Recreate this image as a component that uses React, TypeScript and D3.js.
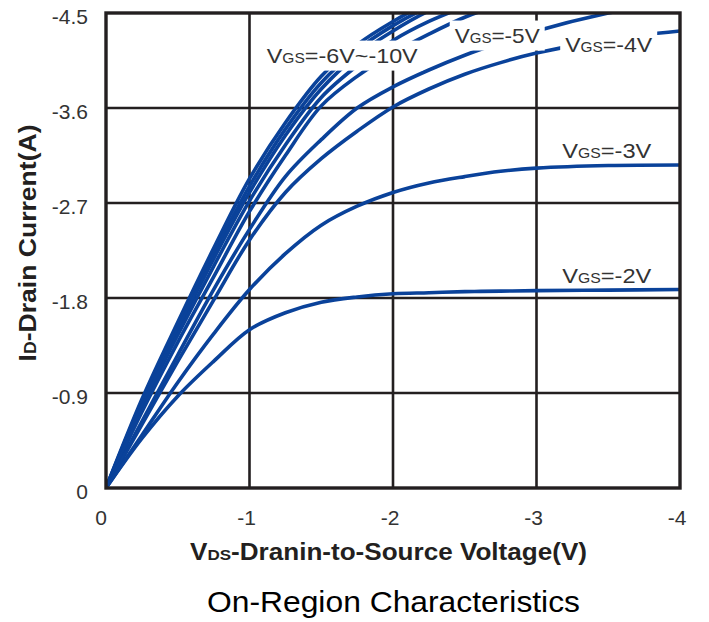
import React from 'react';
import * as d3 from 'd3';

// Drain-source voltage grid (V)
const VDS = [0, -0.25, -0.5, -0.75, -1, -1.25, -1.5, -1.75, -2, -2.25, -2.5, -2.75, -3, -3.5, -4];

// Drain current (A) for each gate voltage
const ID_VGS_10 = [0, -0.84, -1.57, -2.27, -2.93, -3.46, -3.9, -4.2, -4.42, -4.6, -4.74, -4.86, -4.96, -5.1, -5.2];
const ID_VGS_9 = [0, -0.82, -1.54, -2.22, -2.86, -3.4, -3.84, -4.15, -4.38, -4.56, -4.7, -4.82, -4.92, -5.05, -5.15];
const ID_VGS_8 = [0, -0.8, -1.5, -2.17, -2.8, -3.34, -3.78, -4.1, -4.33, -4.52, -4.66, -4.78, -4.88, -5.0, -5.1];
const ID_VGS_7 = [0, -0.77, -1.45, -2.1, -2.72, -3.25, -3.7, -4.0, -4.24, -4.42, -4.56, -4.68, -4.78, -4.92, -5.02];
const ID_VGS_6 = [0, -0.72, -1.38, -2.0, -2.62, -3.15, -3.62, -3.9, -4.12, -4.3, -4.46, -4.58, -4.68, -4.8, -4.9];
const ID_VGS_5 = [0, -0.63, -1.26, -1.88, -2.45, -2.95, -3.3, -3.6, -3.8, -3.96, -4.1, -4.22, -4.33, -4.5, -4.62];
const ID_VGS_4 = [0, -0.6, -1.2, -1.78, -2.35, -2.8, -3.12, -3.38, -3.61, -3.78, -3.92, -4.03, -4.12, -4.25, -4.33];
const ID_VGS_3 = [0, -0.5, -1.0, -1.46, -1.88, -2.22, -2.49, -2.67, -2.8, -2.89, -2.95, -3.0, -3.03, -3.055, -3.06];
const ID_VGS_2 = [0, -0.47, -0.87, -1.2, -1.5, -1.66, -1.76, -1.81, -1.84, -1.85, -1.86, -1.865, -1.87, -1.875, -1.88];

const SERIES = [ID_VGS_10, ID_VGS_9, ID_VGS_8, ID_VGS_7, ID_VGS_6, ID_VGS_5, ID_VGS_4, ID_VGS_3, ID_VGS_2];

const X_TICKS = [0, -1, -2, -3, -4];
const X_TICK_LABELS = ['0', '-1', '-2', '-3', '-4'];
const Y_TICKS = [0, -0.9, -1.8, -2.7, -3.6, -4.5];
const Y_TICK_LABELS = ['0', '-0.9', '-1.8', '-2.7', '-3.6', '-4.5'];

// Curve annotations (text after "VGS") and their anchor in data units
const LABEL_TEXTS = ['=-6V~-10V', '=-5V', '=-4V', '=-3V', '=-2V'];
const LABEL_VDS = [-1.12, -2.43, -3.2, -3.18, -3.18];
const LABEL_ID = [-4.03, -4.22, -4.13, -3.13, -1.94];

const W = 709;
const H = 622;
const LEFT = 106;
const RIGHT = 680;
const TOP = 13;
const BOTTOM = 488;

const FONT = '"Liberation Sans", Arial, Helvetica, sans-serif';
const BLUE = '#0a429a';
const GRID = '#231f20';

export default function App() {
  const x = d3.scaleLinear().domain([0, -4]).range([LEFT, RIGHT]);
  const y = d3.scaleLinear().domain([0, -4.5]).range([BOTTOM, TOP]);

  const line = d3
    .line<number>()
    .x((_, i) => x(VDS[i]))
    .y((d) => y(d))
    .curve(d3.curveCatmullRom.alpha(0.5));

  const labelWidths = [151, 85, 87, 89, 89];
  const labelBoxed = [true, true, true, false, false];

  return (
    <svg
      width={W}
      height={H}
      viewBox={`0 0 ${W} ${H}`}
      style={{ position: 'absolute', left: 0, top: 0, background: '#fff' }}
      fontFamily={FONT}
    >
      <defs>
        <clipPath id="plot-clip">
          <rect x={LEFT} y={TOP} width={RIGHT - LEFT} height={BOTTOM - TOP} />
        </clipPath>
      </defs>
      <rect x={0} y={0} width={W} height={H} fill="#fff" />

      {/* grid */}
      <g stroke={GRID} strokeWidth={2.6}>
        {X_TICKS.slice(1, -1).map((t) => (
          <line key={'gx' + t} x1={x(t)} x2={x(t)} y1={TOP} y2={BOTTOM} />
        ))}
        {Y_TICKS.slice(1, -1).map((t) => (
          <line key={'gy' + t} x1={LEFT} x2={RIGHT} y1={y(t)} y2={y(t)} />
        ))}
      </g>

      {/* curves */}
      <g clipPath="url(#plot-clip)" fill="none" stroke={BLUE} strokeWidth={3.6} strokeLinecap="round">
        {SERIES.map((s, i) => (
          <path key={'s' + i} d={line(s) || ''} />
        ))}
      </g>

      {/* curve labels */}
      {LABEL_TEXTS.map((t, i) => {
        const lx = x(LABEL_VDS[i]);
        const ly = y(LABEL_ID[i]);
        return (
          <g key={'lab' + i}>
            {labelBoxed[i] && (
              <rect x={lx - 5} y={ly - 22} width={labelWidths[i] + 10} height={30} fill="#fff" />
            )}
            <text
              x={lx}
              y={ly}
              fontSize={21}
              fill="#333"
              textLength={labelWidths[i]}
              lengthAdjust="spacingAndGlyphs"
            >
              V<tspan fontSize={14}>GS</tspan>
              {t}
            </text>
          </g>
        );
      })}

      {/* border */}
      <rect
        x={LEFT}
        y={TOP}
        width={RIGHT - LEFT}
        height={BOTTOM - TOP}
        fill="none"
        stroke={GRID}
        strokeWidth={3.4}
      />

      {/* y ticks */}
      {Y_TICKS.map((t, i) => (
        <text key={'yt' + i} x={88} y={y(t) + 11} textAnchor="end" fontSize={21} fill="#333">
          {Y_TICK_LABELS[i]}
        </text>
      ))}

      {/* x ticks */}
      {X_TICKS.map((t, i) => (
        <text key={'xt' + i} x={x(t) - (i === 0 ? 5 : 3)} y={525} textAnchor="middle" fontSize={21} fill="#333">
          {X_TICK_LABELS[i]}
        </text>
      ))}

      {/* x title */}
      <text
        x={190}
        y={560}
        fontSize={23}
        fontWeight="bold"
        fill={GRID}
        textLength={397}
        lengthAdjust="spacingAndGlyphs"
      >
        V<tspan fontSize={15}>DS</tspan>-Dranin-to-Source Voltage(V)
      </text>

      {/* y title */}
      <text
        transform={`translate(36, 243) rotate(-90)`}
        textAnchor="middle"
        fontSize={24}
        fontWeight="bold"
        fill={GRID}
        textLength={237}
        lengthAdjust="spacingAndGlyphs"
      >
        I<tspan fontSize={16}>D</tspan>-Drain Current(A)
      </text>

      {/* caption */}
      <text
        x={207}
        y={612}
        fontSize={29}
        fill="#000"
        textLength={373}
        lengthAdjust="spacingAndGlyphs"
      >
        On-Region Characteristics
      </text>
    </svg>
  );
}
